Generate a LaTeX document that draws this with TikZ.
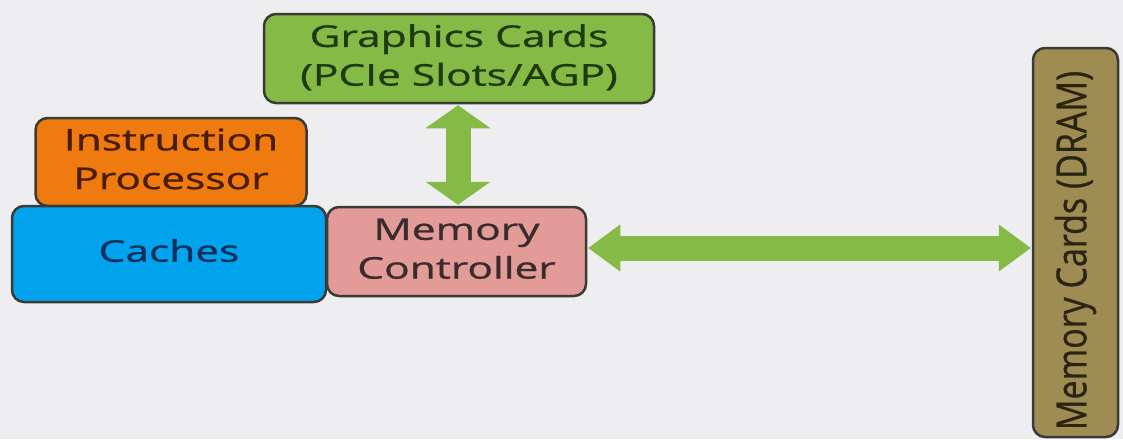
\documentclass[tikz,border=0pt]{standalone}
\usepackage{fontspec}
\setmainfont{Open Sans}
\newfontfamily\boxfont{Open Sans}[FakeBold=0.8]
\usepackage{graphicx}
\usetikzlibrary{arrows.meta}
\definecolor{bgc}{HTML}{EEEEF1}
\definecolor{gfill}{HTML}{84BA45}
\definecolor{ofill}{HTML}{EE7A10}
\definecolor{bfill}{HTML}{00A3EC}
\definecolor{pfill}{HTML}{E39B98}
\definecolor{olfill}{HTML}{9E8C52}
\definecolor{edge}{HTML}{3A3A36}
\definecolor{gtxt}{HTML}{1F3A10}
\definecolor{otxt}{HTML}{4A1C02}
\definecolor{btxt}{HTML}{0D2F5C}
\definecolor{ptxt}{HTML}{3A2C2C}
\definecolor{oltxt}{HTML}{2A2412}
\newcommand{\stx}[1]{\scalebox{1.25}[0.88]{\begin{tabular}{@{}c@{}}#1\end{tabular}}}
\begin{document}
\begin{tikzpicture}[x=1pt,y=-1pt,
  box/.style={draw=edge, line width=2.5pt, rounded corners=12pt, inner sep=0pt,
    font=\boxfont\fontsize{34}{44}\selectfont}]
\fill[bgc] (0,0) rectangle (1123,439);
\useasboundingbox (0,0) rectangle (1123,439);
\node[box, fill=gfill, text=gtxt, minimum width=390pt, minimum height=89pt] (gc) at (459,58.5)
  {\stx{Graphics Cards\\(PCIe Slots/AGP)}};
\node[box, fill=ofill, text=otxt, minimum width=271pt, minimum height=88pt] (ip) at (171,162)
  {\stx{Instruction\\Processor}};
\node[box, fill=bfill, text=btxt, minimum width=314pt, minimum height=96pt] (ca) at (169,254)
  {\stx{Caches}};
\node[box, fill=pfill, text=ptxt, minimum width=259pt, minimum height=89pt] (mc) at (456.5,251.5)
  {\stx{Memory\\Controller}};
\node[box, fill=olfill, text=oltxt, rotate=90, minimum width=389pt, minimum height=85pt] (mem) at (1075.5,242.5)
  {\scalebox{1}[1.22]{Memory Cards (DRAM)}\hspace*{16pt}};
\coordinate (hy) at (0,248);
\draw[gfill, line width=25pt,
  {Triangle[length=23pt,width=65pt,line width=0pt]}-{Triangle[length=23pt,width=65pt,line width=0pt]}]
  ([xshift=-1pt,yshift=-1pt]gc.south) -- ([xshift=-1pt,yshift=1pt]gc.south |- mc.north);
\draw[gfill, line width=25pt,
  {Triangle[length=32pt,width=47pt,line width=0pt]}-{Triangle[length=32pt,width=47pt,line width=0pt]}]
  ([xshift=1pt]mc.east |- hy) -- ([xshift=-1pt]mem.north |- hy);
\end{tikzpicture}
\end{document}
